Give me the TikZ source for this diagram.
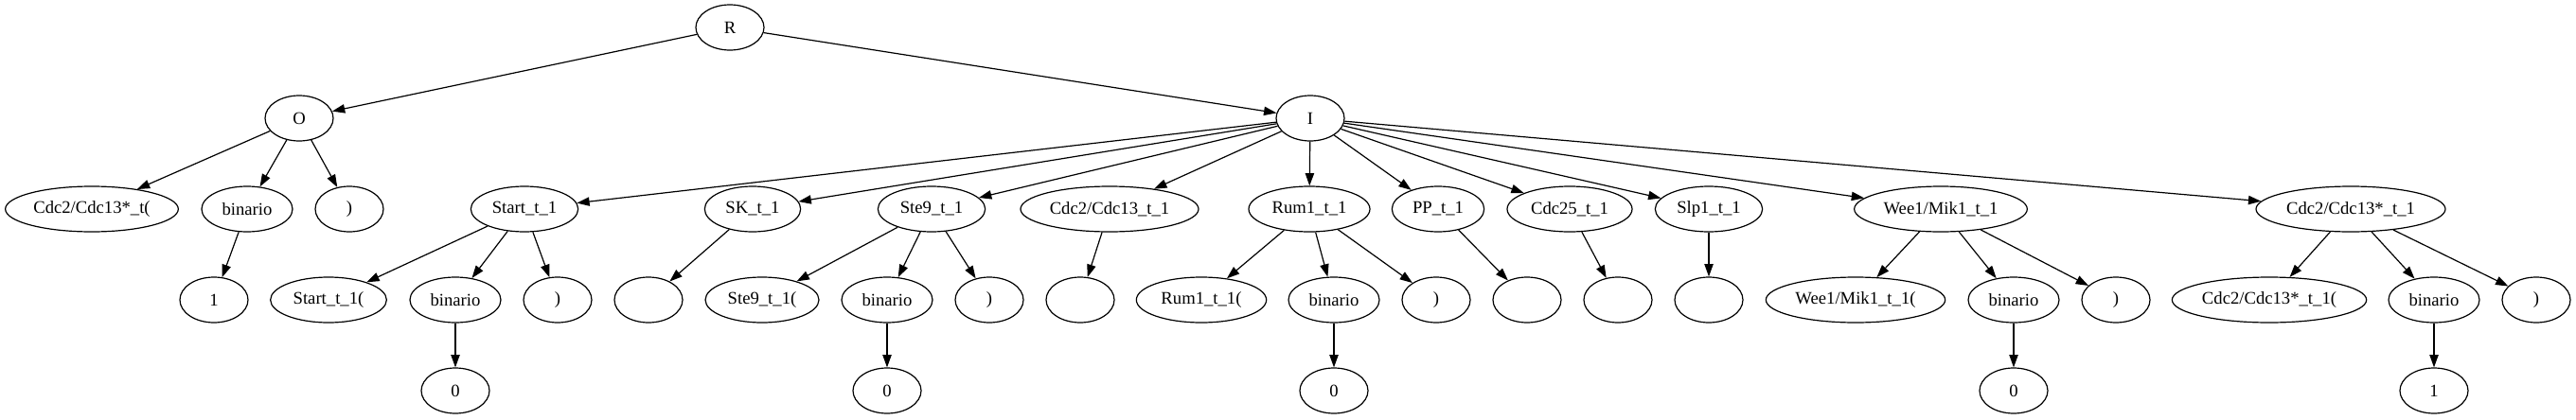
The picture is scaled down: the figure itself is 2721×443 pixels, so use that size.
\documentclass[tikz,border=0pt]{standalone}
\usepackage{fontspec}
\setmainfont{Liberation Serif}
\usetikzlibrary{positioning,shapes.geometric,arrows.meta}
\tikzset{
  tn/.style={draw, ellipse, line width=0.9pt, inner sep=0pt,
    minimum height=36pt, minimum width=54pt, font=\fontsize{14}{16}\selectfont},
}

\begin{document}
\begin{tikzpicture}[x=0.75pt, y=0.75pt, >={Triangle[length=10pt,width=7pt]}]
      \useasboundingbox (0,0) rectangle (2721,-443);

      \node[tn] (R) at (771,-29) {R};
      \node[tn] (O) at (316,-125) {O};
      \node[tn] (I) at (1384,-125) {I};

      \node[tn, minimum width=137pt] (o1) at (97,-221) {Cdc2/Cdc13*\_t(};
      \node[tn, minimum width=72pt] (o2) at (261,-221) {binario};
      \node[tn] (o3) at (369,-221) {)};
      \node[tn, minimum width=85pt] (a) at (554,-221) {Start\_t\_1};
      \node[tn, minimum width=76pt] (b) at (795,-221) {SK\_t\_1};
      \node[tn, minimum width=85pt] (c) at (984,-221) {Ste9\_t\_1};
      \node[tn, minimum width=141pt] (d) at (1172,-221) {Cdc2/Cdc13\_t\_1};
      \node[tn, minimum width=96pt] (e) at (1383,-221) {Rum1\_t\_1};
      \node[tn, minimum width=73pt] (f) at (1519,-221) {PP\_t\_1};
      \node[tn, minimum width=99pt] (g) at (1658,-221) {Cdc25\_t\_1};
      \node[tn, minimum width=85pt] (h) at (1805,-221) {Slp1\_t\_1};
      \node[tn, minimum width=137pt] (i) at (2050,-221) {Wee1/Mik1\_t\_1};
      \node[tn, minimum width=150pt] (j) at (2483,-221) {Cdc2/Cdc13*\_t\_1};

      \node[tn] (o21) at (226,-317) {1};
      \node[tn, minimum width=92pt] (a1) at (347,-317) {Start\_t\_1(};
      \node[tn, minimum width=72pt] (a2) at (481,-317) {binario};
      \node[tn] (a3) at (589,-317) {)};
      \node[tn] (b1) at (685,-317) {};
      \node[tn, minimum width=90pt] (c1) at (805,-317) {Ste9\_t\_1(};
      \node[tn, minimum width=72pt] (c2) at (937,-317) {binario};
      \node[tn] (c3) at (1045,-317) {)};
      \node[tn] (d1) at (1141,-317) {};
      \node[tn, minimum width=103pt] (e1) at (1269,-317) {Rum1\_t\_1(};
      \node[tn, minimum width=72pt] (e2) at (1409,-317) {binario};
      \node[tn] (e3) at (1517,-317) {)};
      \node[tn] (f1) at (1613,-317) {};
      \node[tn] (g1) at (1709,-317) {};
      \node[tn] (h1) at (1805,-317) {};
      \node[tn, minimum width=142pt] (i1) at (1960,-317) {Wee1/Mik1\_t\_1(};
      \node[tn, minimum width=72pt] (i2) at (2127,-317) {binario};
      \node[tn] (i3) at (2235,-317) {)};
      \node[tn, minimum width=154pt] (j1) at (2397,-317) {Cdc2/Cdc13*\_t\_1(};
      \node[tn, minimum width=72pt] (j2) at (2571,-317) {binario};
      \node[tn] (j3) at (2679,-317) {)};

      \node[tn] (a21) at (481,-413) {0};
      \node[tn] (c21) at (937,-413) {0};
      \node[tn] (e21) at (1409,-413) {0};
      \node[tn] (i21) at (2127,-413) {0};
      \node[tn] (j21) at (2571,-413) {1};

      \path[line width=0.9pt]
        (R) edge[->] (O)
        (R) edge[->] (I)
        (O) edge[->] (o1)
        (O) edge[->] (o2)
        (O) edge[->] (o3)
        (o2) edge[->] (o21)
        (I) edge[->] (a)
        (I) edge[->] (b)
        (I) edge[->] (c)
        (I) edge[->] (d)
        (I) edge[->] (e)
        (I) edge[->] (f)
        (I) edge[->] (g)
        (I) edge[->] (h)
        (I) edge[->] (i)
        (I) edge[->] (j)
        (a) edge[->] (a1)
        (a) edge[->] (a2)
        (a) edge[->] (a3)
        (a2) edge[->] (a21)
        (b) edge[->] (b1)
        (c) edge[->] (c1)
        (c) edge[->] (c2)
        (c) edge[->] (c3)
        (c2) edge[->] (c21)
        (d) edge[->] (d1)
        (e) edge[->] (e1)
        (e) edge[->] (e2)
        (e) edge[->] (e3)
        (e2) edge[->] (e21)
        (f) edge[->] (f1)
        (g) edge[->] (g1)
        (h) edge[->] (h1)
        (i) edge[->] (i1)
        (i) edge[->] (i2)
        (i) edge[->] (i3)
        (i2) edge[->] (i21)
        (j) edge[->] (j1)
        (j) edge[->] (j2)
        (j) edge[->] (j3)
        (j2) edge[->] (j21);
    \end{tikzpicture}
\end{document}
